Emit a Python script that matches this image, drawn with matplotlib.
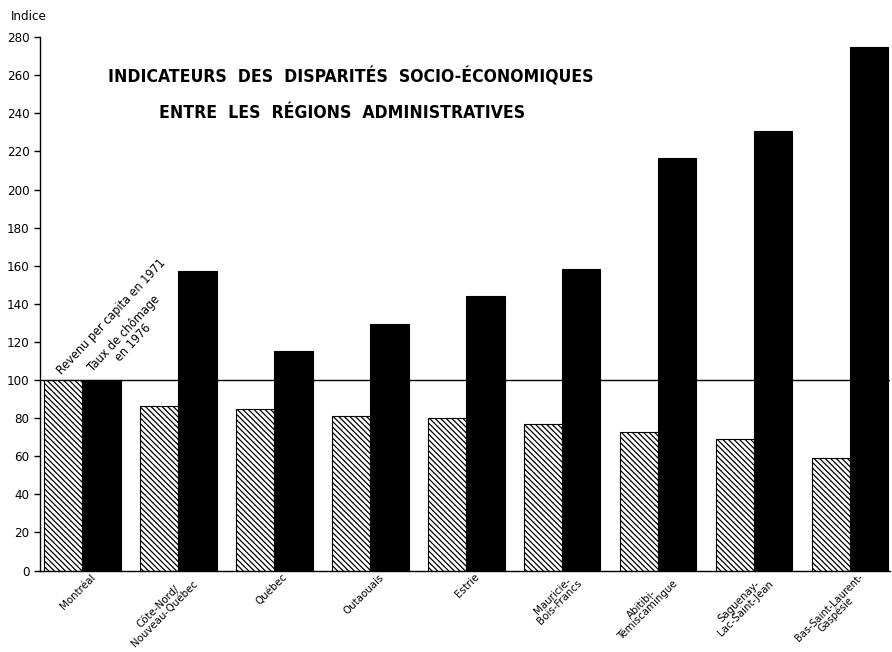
import numpy as np
import matplotlib
matplotlib.use("Agg")
import matplotlib.pyplot as plt
import matplotlib.transforms as mtransforms

plt.rcParams['font.family'] = ['DejaVu Sans']
plt.rcParams['font.stretch'] = 'condensed'
plt.rcParams['hatch.linewidth'] = 0.9

regions = ["Montréal", "Côte-Nord/\nNouveau-Québec", "Québec", "Outaouais", "Estrie",
           "Mauricie-\nBois-Francs", "Abitibi-\nTémiscamingue", "Saguenay-\nLac-Saint-Jean",
           "Bas-Saint-Laurent-\nGaspésie"]
revenu_1971 = [100, 86.5, 85, 81, 80, 77, 72.5, 69, 59]
chomage_1976 = [100, 157, 115, 129.5, 144, 158.5, 216.5, 230.5, 275]
yticks = list(range(0, 281, 20))

fig = plt.figure(figsize=(8.92, 6.52), dpi=100)
ax = fig.add_axes([0.045, 0.125, 0.953, 0.818])

x = np.arange(len(regions))
w = 0.4
ax.bar(x - w / 2, revenu_1971, w, color="white", edgecolor="black", hatch="\\\\\\\\\\\\", linewidth=0.8)
ax.bar(x + w / 2, chomage_1976, w, color="black", edgecolor="black", linewidth=0.8)

# reference line at 100
ax.axhline(100, color="black", linewidth=1)

ax.set_xlim(-0.44, 8.42)
ax.set_ylim(0, 280)
ax.set_yticks(yticks)
ax.tick_params(axis="y", labelsize=9.5, length=4, width=1)
ax.set_xticks(x)
ax.set_xticklabels(regions, rotation=45, ha="right", va="top", rotation_mode="anchor",
                   fontsize=8.2, multialignment="center", linespacing=0.86)
ax.tick_params(axis="x", length=0, pad=0)
offset = mtransforms.ScaledTranslation(0.08, -0.015, fig.dpi_scale_trans)
for lab in ax.get_xticklabels():
    lab.set_transform(lab.get_transform() + offset)
# the last label is the longest one, keep it inside the figure
ax.get_xticklabels()[-1].set_fontsize(7.8)

for s in ["top", "right"]:
    ax.spines[s].set_visible(False)
ax.spines["left"].set_linewidth(1)
ax.spines["bottom"].set_linewidth(1)

fig.text(0.012, 0.975, "Indice", fontsize=9.5, ha="left", va="center")

ax.text(0.3, 133, "Revenu per capita en 1971", rotation=47, fontsize=9,
        ha="center", va="center")
ax.text(0.48, 122, "Taux de chômage\nen 1976", rotation=47, fontsize=9,
        ha="center", va="center", multialignment="center", linespacing=0.95)

ax.text(2.8, 259, "INDICATEURS  DES  DISPARITÉS  SOCIO-ÉCONOMIQUES", fontsize=12.6,
        fontweight="bold", ha="center", va="center")
ax.text(2.71, 240, "ENTRE  LES  RÉGIONS  ADMINISTRATIVES", fontsize=12.6,
        fontweight="bold", ha="center", va="center")

fig.savefig("out.png", dpi=100)
